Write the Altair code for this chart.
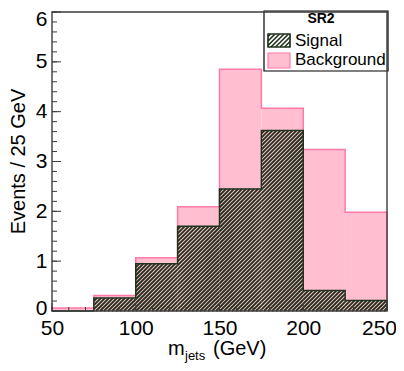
import math
import altair as alt
import pandas as pd

# ---------------- data ----------------
bin_edges = [50, 75, 100, 125, 150, 175, 200, 225, 250]
background = [0.06, 0.31, 1.07, 2.09, 4.85, 4.07, 3.24, 1.98]
signal = [0.0, 0.26, 0.95, 1.70, 2.45, 3.62, 0.41, 0.21]
x_major_ticks = [50, 100, 150, 200, 250]
x_minor_ticks = list(range(50, 251, 10))
y_major_ticks = [0, 1, 2, 3, 4, 5, 6]
y_minor_ticks = [round(i * 0.2, 1) for i in range(31)]
legend_title = "SR2"
legend_labels = ["Signal", "Background"]
x_title_parts = ["m", "jets", "(GeV)"]
y_title = "Events / 25 GeV"

# ---------------- style ----------------
W, H = 335, 299
XMIN, XMAX, YMAX = 50, 250, 6
KX = W / (XMAX - XMIN)
KY = H / YMAX
FONT = "Liberation Sans"
PINK_FILL = "#ffbfd0"
PINK_LINE = "#ff7aa8"
GREEN = "#1f321b"
FRAME = "#3c3c3c"
PERIOD = 4.0

xs = alt.Scale(domain=[XMIN, XMAX], nice=False, zero=False)
ys = alt.Scale(domain=[0, YMAX], nice=False, zero=False)


def hatch_segments(rects, period=PERIOD):
    """Diagonal '///' hatch segments clipped to pixel rects (u0,u1,v0,v1), v upward."""
    rows = []
    for u0, u1, v0, v1 in rects:
        if v1 - v0 <= 0:
            continue
        kmin = math.floor((u0 - v1) / period)
        kmax = math.ceil((u1 - v0) / period)
        for k in range(kmin, kmax + 1):
            c = k * period
            lo = max(v0, u0 - c)
            hi = min(v1, u1 - c)
            if hi - lo > 0.05:
                rows.append({"x": XMIN + (lo + c) / KX, "y": lo / KY,
                             "x2": XMIN + (hi + c) / KX, "y2": hi / KY})
    return pd.DataFrame(rows)


def step_df(values):
    xv = [bin_edges[0]] + bin_edges[:-1] + [bin_edges[-1], bin_edges[-1]]
    yv = [0] + list(values) + [values[-1], 0]
    return pd.DataFrame({"x": xv, "y": yv, "o": list(range(len(xv)))})


bars = pd.DataFrame({"x0": bin_edges[:-1], "x1": bin_edges[1:],
                     "bkg": background, "sig": signal, "base": [0] * len(signal)})

# hatch for signal bars (pixel rects derived from data through the scale factors)
sig_rects = [((a - XMIN) * KX, (b - XMIN) * KX, 0, s * KY)
             for a, b, s in zip(bin_edges[:-1], bin_edges[1:], signal)]
sig_hatch = hatch_segments(sig_rects)

# legend geometry (pixels, relative to plot area, y downward)
LG = dict(x=212, x2=336, y=-1, y2=59)
SW_SIG = dict(x=216, x2=238, y=22, y2=35)
SW_BKG = dict(x=216, x2=238, y=41, y2=56)
leg_hatch = hatch_segments([(SW_SIG["x"], SW_SIG["x2"], H - SW_SIG["y2"], H - SW_SIG["y"])], period=4.5)

one = pd.DataFrame({"a": [0]})

axis_common = dict(labelFont=FONT, labelFontSize=21, labelColor="black",
                   ticks=False, domain=False, grid=False, title=None)

bkg_fill = alt.Chart(bars).mark_rect(fill=PINK_FILL, strokeWidth=0).encode(
    x=alt.X("x0:Q", scale=xs, axis=alt.Axis(values=x_major_ticks, labelPadding=6,
                                            labelFlush=False, labelOverlap=False,
                                            labelOffset=alt.ExprRef(expr="datum.value == 250 ? -8 : 0"),
                                            format="d", **axis_common)),
    x2="x1:Q",
    y=alt.Y("bkg:Q", scale=ys, axis=alt.Axis(values=y_major_ticks, labelPadding=5,
                                             labelFlush=False, labelBaseline="middle",
                                             labelOffset=alt.ExprRef(expr="datum.value == 6 ? 7 : (datum.value == 0 ? -3 : 0)"),
                                             labelOverlap=False, format="d", **axis_common)),
    y2="base:Q",
)

bkg_line = alt.Chart(step_df(background)).mark_line(
    interpolate="step-after", color=PINK_LINE, strokeWidth=1.5).encode(
    x=alt.X("x:Q", scale=xs), y=alt.Y("y:Q", scale=ys), order="o:Q")

hatch = alt.Chart(sig_hatch).mark_rule(color=GREEN, strokeWidth=1.8, strokeCap="butt").encode(
    x=alt.X("x:Q", scale=xs), y=alt.Y("y:Q", scale=ys), x2="x2:Q", y2="y2:Q")

sig_line = alt.Chart(step_df(signal)).mark_line(
    interpolate="step-after", color=GREEN, strokeWidth=1.5).encode(
    x=alt.X("x:Q", scale=xs), y=alt.Y("y:Q", scale=ys), order="o:Q")

# legend
leg_box = alt.Chart(one).mark_rect(fill="white", stroke="black", strokeWidth=1.2).encode(
    x=alt.value(LG["x"]), x2=alt.value(LG["x2"]), y=alt.value(LG["y"]), y2=alt.value(LG["y2"]))
sw_sig = alt.Chart(one).mark_rect(fill="white", stroke=GREEN, strokeWidth=1.2).encode(
    x=alt.value(SW_SIG["x"]), x2=alt.value(SW_SIG["x2"]), y=alt.value(SW_SIG["y"]), y2=alt.value(SW_SIG["y2"]))
sw_sig_hatch = alt.Chart(leg_hatch).mark_rule(color=GREEN, strokeWidth=1.6, strokeCap="butt").encode(
    x=alt.X("x:Q", scale=xs), y=alt.Y("y:Q", scale=ys), x2="x2:Q", y2="y2:Q")
sw_sig_border = alt.Chart(one).mark_rect(fill=None, stroke=GREEN, strokeWidth=1.2).encode(
    x=alt.value(SW_SIG["x"]), x2=alt.value(SW_SIG["x2"]), y=alt.value(SW_SIG["y"]), y2=alt.value(SW_SIG["y2"]))
sw_bkg = alt.Chart(one).mark_rect(fill=PINK_FILL, stroke=PINK_LINE, strokeWidth=1.2).encode(
    x=alt.value(SW_BKG["x"]), x2=alt.value(SW_BKG["x2"]), y=alt.value(SW_BKG["y"]), y2=alt.value(SW_BKG["y2"]))

leg_title = alt.Chart(pd.DataFrame({"t": [legend_title]})).mark_text(
    font=FONT, fontSize=14, fontWeight="bold", align="center", baseline="alphabetic", color="black").encode(
    x=alt.value(269), y=alt.value(11), text="t:N")
leg_text = alt.Chart(pd.DataFrame({"t": legend_labels, "yy": [33.5, 52.5]})).mark_text(
    font=FONT, fontSize=17, align="left", baseline="alphabetic", color="black").encode(
    x=alt.value(243), y=alt.Y("yy:Q", scale=None), text="t:N")

# inward ticks
xt_minor = alt.Chart(pd.DataFrame({"v": x_minor_ticks})).mark_rule(color=FRAME, strokeWidth=1).encode(
    x=alt.X("v:Q", scale=xs), y=alt.value(H), y2=alt.value(H - 4))
xt_major = alt.Chart(pd.DataFrame({"v": x_major_ticks})).mark_rule(color=FRAME, strokeWidth=1).encode(
    x=alt.X("v:Q", scale=xs), y=alt.value(H), y2=alt.value(H - 8))
yt_minor = alt.Chart(pd.DataFrame({"v": y_minor_ticks})).mark_rule(color=FRAME, strokeWidth=1).encode(
    y=alt.Y("v:Q", scale=ys), x=alt.value(0), x2=alt.value(5))
yt_major = alt.Chart(pd.DataFrame({"v": y_major_ticks})).mark_rule(color=FRAME, strokeWidth=1).encode(
    y=alt.Y("v:Q", scale=ys), x=alt.value(0), x2=alt.value(9))

frame = alt.Chart(one).mark_rect(fill=None, stroke=FRAME, strokeWidth=1.4).encode(
    x=alt.value(0), x2=alt.value(W), y=alt.value(0), y2=alt.value(H))

# axis titles
xt_m = alt.Chart(pd.DataFrame({"t": [x_title_parts[0]]})).mark_text(
    font=FONT, fontSize=20, align="left", baseline="alphabetic", color="black").encode(
    x=alt.value(116), y=alt.value(343), text="t:N")
xt_sub = alt.Chart(pd.DataFrame({"t": [x_title_parts[1]]})).mark_text(
    font=FONT, fontSize=13, align="left", baseline="alphabetic", color="black").encode(
    x=alt.value(133), y=alt.value(348), text="t:N")
xt_gev = alt.Chart(pd.DataFrame({"t": [x_title_parts[2]]})).mark_text(
    font=FONT, fontSize=20, align="left", baseline="alphabetic", color="black").encode(
    x=alt.value(161), y=alt.value(343), text="t:N")
yt_text = alt.Chart(pd.DataFrame({"t": [y_title]})).mark_text(
    font=FONT, fontSize=20, align="center", baseline="alphabetic", angle=270, color="black").encode(
    x=alt.value(-27), y=alt.value(149.5), text="t:N")

chart = alt.layer(
    bkg_fill, bkg_line, hatch, sig_line,
    leg_box, sw_sig, sw_sig_hatch, sw_sig_border, sw_bkg, leg_title, leg_text,
    xt_minor, xt_major, yt_minor, yt_major, frame,
    xt_m, xt_sub, xt_gev, yt_text,
).properties(
    width=W, height=H,
    autosize=alt.AutoSizeParams(type="none"),
    padding={"left": 44, "top": 4, "right": 9, "bottom": 52},
    background="white",
).configure_view(stroke=None)

chart.save("out.html", embed_options={"renderer": "svg", "actions": False})
